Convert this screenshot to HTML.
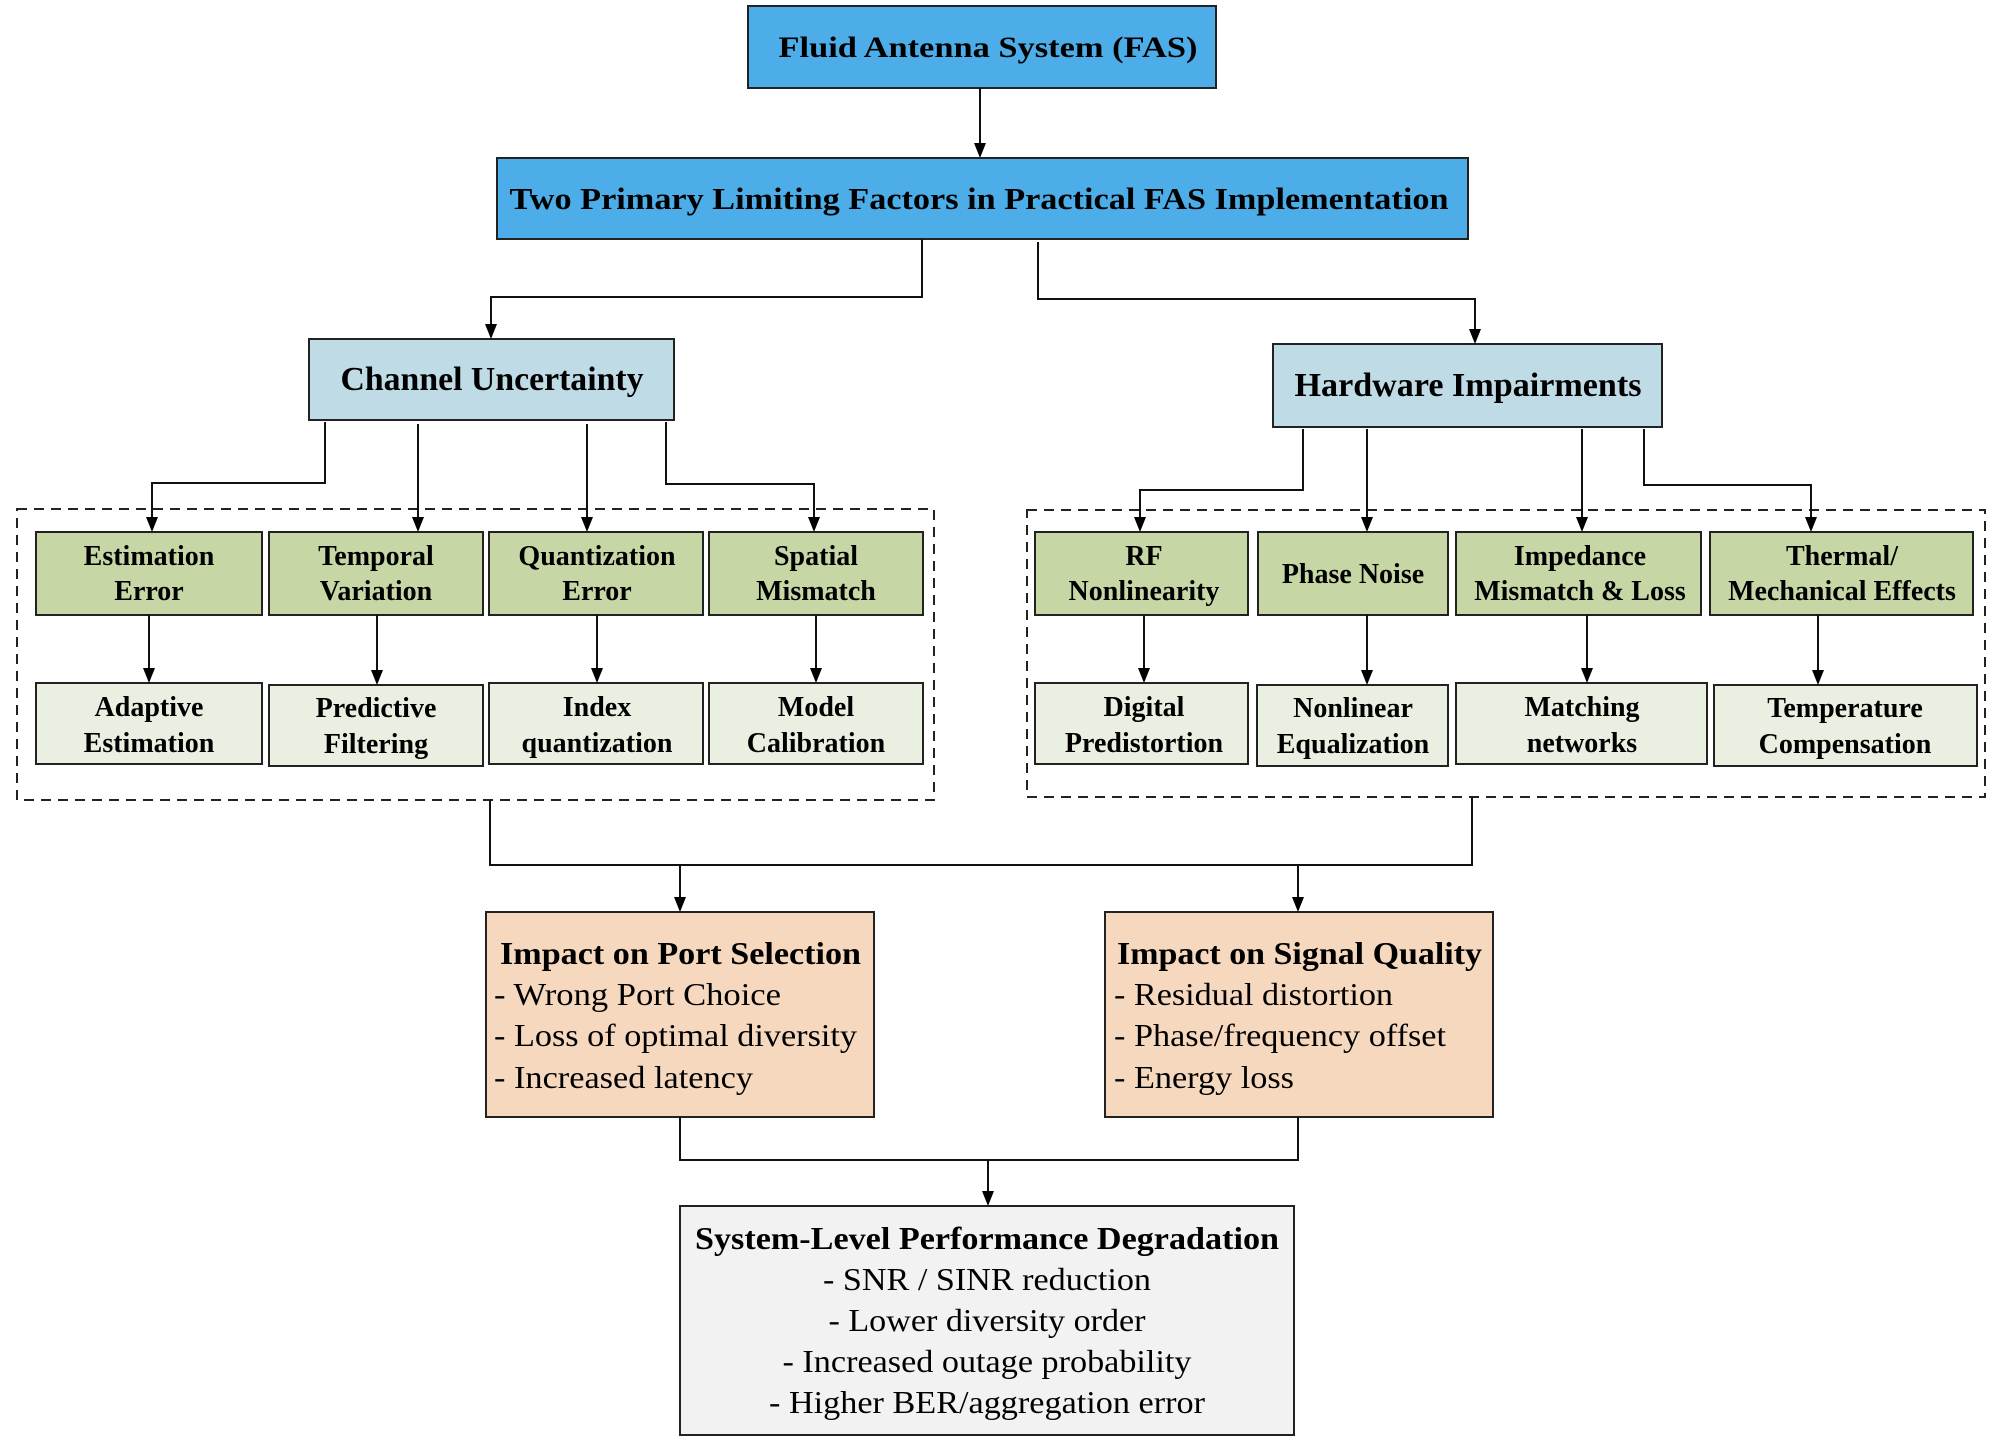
<!DOCTYPE html>
<html><head><meta charset="utf-8"><style>
html,body{margin:0;padding:0;background:#fff;}
svg{display:block;}
text{font-family:"Liberation Serif",serif;fill:#000;}
.b{font-weight:bold;}
</style></head><body>
<svg width="1997" height="1444" viewBox="0 0 1997 1444" xmlns="http://www.w3.org/2000/svg">
<g stroke="#222" stroke-width="2">
<rect x="748" y="6" width="468" height="82" fill="#4DADE8"/>
<rect x="497" y="158" width="971" height="81" fill="#4DADE8"/>
<rect x="309" y="339" width="365" height="81" fill="#BFDCE6"/>
<rect x="1273" y="344" width="389" height="83" fill="#BFDCE6"/>
</g>
<g fill="none" stroke="#222" stroke-width="2" stroke-dasharray="10,7">
<rect x="17" y="509" width="917" height="291"/>
<rect x="1027" y="510" width="958" height="287"/>
</g>
<g stroke="#222" stroke-width="2" fill="#C6D7A5">
<rect x="36" y="532" width="226" height="83"/>
<rect x="269" y="532" width="214" height="83"/>
<rect x="489" y="532" width="214" height="83"/>
<rect x="709" y="532" width="214" height="83"/>
<rect x="1035" y="532" width="213" height="83"/>
<rect x="1258" y="532" width="190" height="83"/>
<rect x="1456" y="532" width="245" height="83"/>
<rect x="1710" y="532" width="263" height="83"/>
</g>
<g stroke="#222" stroke-width="2" fill="#EAF0E1">
<rect x="36" y="683" width="226" height="81"/>
<rect x="269" y="685" width="214" height="81"/>
<rect x="489" y="683" width="214" height="81"/>
<rect x="709" y="683" width="214" height="81"/>
<rect x="1035" y="683" width="213" height="81"/>
<rect x="1257" y="685" width="191" height="81"/>
<rect x="1456" y="683" width="251" height="81"/>
<rect x="1714" y="685" width="263" height="81"/>
</g>
<g stroke="#222" stroke-width="2">
<rect x="486" y="912" width="388" height="205" fill="#F5D8BD"/>
<rect x="1105" y="912" width="388" height="205" fill="#F5D8BD"/>
<rect x="680" y="1206" width="614" height="229" fill="#F2F2F2"/>
</g>
<g fill="none" stroke="#111" stroke-width="2">
<path d="M980,88 V150"/>
<path d="M922,239 V297 H491 V332"/>
<path d="M1038,242 V299 H1475 V337"/>
<path d="M325,422 V483 H152 V525"/>
<path d="M418,424 V525"/>
<path d="M587,424 V525"/>
<path d="M666,422 V484 H814 V525"/>
<path d="M1303,429 V490 H1140 V525"/>
<path d="M1367,429 V525"/>
<path d="M1582,429 V525"/>
<path d="M1644,429 V485 H1811 V525"/>
<path d="M149,615 V676"/>
<path d="M377,615 V678"/>
<path d="M597,615 V676"/>
<path d="M816,615 V676"/>
<path d="M1144,615 V676"/>
<path d="M1367,615 V678"/>
<path d="M1587,615 V676"/>
<path d="M1818,615 V678"/>
<path d="M490,800 V865 H1472 V797"/>
<path d="M680,865 V905"/>
<path d="M1298,865 V905"/>
<path d="M680,1117 V1160 H1298 V1117"/>
<path d="M988,1160 V1199"/>
</g>
<g fill="#000">
<polygon points="974,143 986,143 980,158"/>
<polygon points="485,324 497,324 491,339"/>
<polygon points="1469,329 1481,329 1475,344"/>
<polygon points="146,517 158,517 152,532"/>
<polygon points="412,517 424,517 418,532"/>
<polygon points="581,517 593,517 587,532"/>
<polygon points="808,517 820,517 814,532"/>
<polygon points="1134,517 1146,517 1140,532"/>
<polygon points="1361,517 1373,517 1367,532"/>
<polygon points="1576,517 1588,517 1582,532"/>
<polygon points="1805,517 1817,517 1811,532"/>
<polygon points="143,668 155,668 149,683"/>
<polygon points="371,670 383,670 377,685"/>
<polygon points="591,668 603,668 597,683"/>
<polygon points="810,668 822,668 816,683"/>
<polygon points="1138,668 1150,668 1144,683"/>
<polygon points="1361,670 1373,670 1367,685"/>
<polygon points="1581,668 1593,668 1587,683"/>
<polygon points="1812,670 1824,670 1818,685"/>
<polygon points="674,897 686,897 680,912"/>
<polygon points="1292,897 1304,897 1298,912"/>
<polygon points="982,1191 994,1191 988,1206"/>
</g>
<g class="b" text-anchor="middle">
<text x="988" y="57" font-size="30" textLength="419" lengthAdjust="spacingAndGlyphs">Fluid Antenna System (FAS)</text>
<text x="979" y="209" font-size="31" textLength="939" lengthAdjust="spacingAndGlyphs">Two Primary Limiting Factors in Practical FAS Implementation</text>
<text x="492" y="390" font-size="34" textLength="303" lengthAdjust="spacingAndGlyphs">Channel Uncertainty</text>
<text x="1468" y="396" font-size="34" textLength="347" lengthAdjust="spacingAndGlyphs">Hardware Impairments</text>
</g>
<g class="b" text-anchor="middle" font-size="28">
<text x="149" y="565">Estimation</text><text x="149" y="600">Error</text>
<text x="376" y="565">Temporal</text><text x="376" y="600">Variation</text>
<text x="597" y="565">Quantization</text><text x="597" y="600">Error</text>
<text x="816" y="565">Spatial</text><text x="816" y="600">Mismatch</text>
<text x="1144" y="565">RF</text><text x="1144" y="600">Nonlinearity</text>
<text x="1353" y="583">Phase Noise</text>
<text x="1580" y="565">Impedance</text><text x="1580" y="600">Mismatch &amp; Loss</text>
<text x="1842" y="565">Thermal/</text><text x="1842" y="600">Mechanical Effects</text>
<text x="149" y="716">Adaptive</text><text x="149" y="752">Estimation</text>
<text x="376" y="717">Predictive</text><text x="376" y="753">Filtering</text>
<text x="597" y="716">Index</text><text x="597" y="752">quantization</text>
<text x="816" y="716">Model</text><text x="816" y="752">Calibration</text>
<text x="1144" y="716">Digital</text><text x="1144" y="752">Predistortion</text>
<text x="1353" y="717">Nonlinear</text><text x="1353" y="753">Equalization</text>
<text x="1582" y="716">Matching</text><text x="1582" y="752">networks</text>
<text x="1845" y="717">Temperature</text><text x="1845" y="753">Compensation</text>
</g>
<g font-size="32">
<text class="b" x="500" y="964" textLength="361" lengthAdjust="spacingAndGlyphs">Impact on Port Selection</text>
<text x="494" y="1005" textLength="287" lengthAdjust="spacingAndGlyphs">- Wrong Port Choice</text>
<text x="494" y="1046" textLength="363" lengthAdjust="spacingAndGlyphs">- Loss of optimal diversity</text>
<text x="494" y="1088" textLength="259" lengthAdjust="spacingAndGlyphs">- Increased latency</text>
<text class="b" x="1117" y="964" textLength="365" lengthAdjust="spacingAndGlyphs">Impact on Signal Quality</text>
<text x="1114" y="1005" textLength="279" lengthAdjust="spacingAndGlyphs">- Residual distortion</text>
<text x="1114" y="1046" textLength="332" lengthAdjust="spacingAndGlyphs">- Phase/frequency offset</text>
<text x="1114" y="1088" textLength="180" lengthAdjust="spacingAndGlyphs">- Energy loss</text>
</g>
<g font-size="32" text-anchor="middle">
<text class="b" x="987" y="1249" textLength="584" lengthAdjust="spacingAndGlyphs">System-Level Performance Degradation</text>
<text x="987" y="1290" textLength="328" lengthAdjust="spacingAndGlyphs">- SNR / SINR reduction</text>
<text x="987" y="1331" textLength="317" lengthAdjust="spacingAndGlyphs">- Lower diversity order</text>
<text x="987" y="1372" textLength="409" lengthAdjust="spacingAndGlyphs">- Increased outage probability</text>
<text x="987" y="1413" textLength="436" lengthAdjust="spacingAndGlyphs">- Higher BER/aggregation error</text>
</g>
</svg>
</body></html>
